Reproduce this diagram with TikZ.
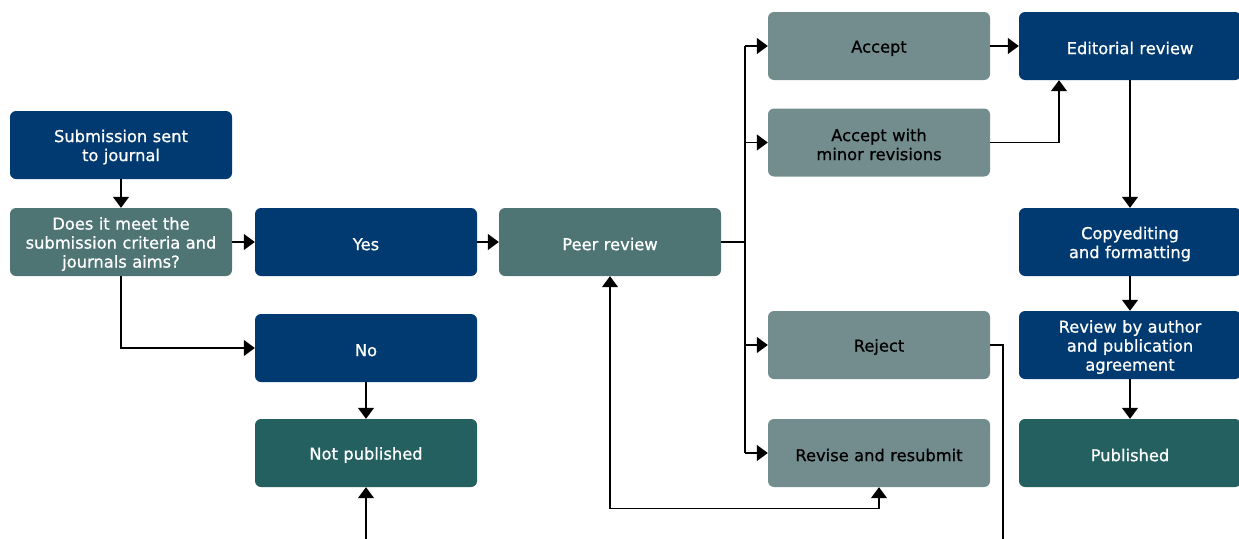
\documentclass[tikz,border=0pt]{standalone}
\usepackage{fontspec}
\setmainfont{DejaVu Sans}[BoldFont={DejaVu Sans},BoldFeatures={FakeBold=0.8}]
\usetikzlibrary{arrows.meta}
\definecolor{dblue}{HTML}{003A70}
\definecolor{mteal}{HTML}{4E7574}
\definecolor{lteal}{HTML}{738D8E}
\definecolor{dteal}{HTML}{23605F}
\tikzset{
  box/.style={rectangle, rounded corners=6pt, minimum width=222pt, minimum height=68pt,
    inner sep=2pt, align=center, text width=214pt,
    font=\bfseries\fontsize{16.3}{19}\selectfont,
    execute at begin node={\rule{0pt}{16.5pt}}},
  bluebox/.style={box, fill=dblue, text=white},
  midbox/.style={box, fill=mteal, text=white},
  lightbox/.style={box, fill=lteal, text=black},
  darkbox/.style={box, fill=dteal, text=white},
  conn/.style={line width=1.3pt, draw=black},
  arr/.style={conn, -{Triangle[width=16pt,length=11pt]}},
  darr/.style={conn, {Triangle[width=16pt,length=11pt]}-{Triangle[width=16pt,length=11pt]}},
}
\begin{document}
\begin{tikzpicture}[x=1pt,y=-1pt]
\useasboundingbox (0,0) rectangle (1239,538);
\node[bluebox] (sub) at (121,145) {Submission sent\\to journal};
\node[midbox] (meet) at (121,242) {Does it meet the\\submission criteria and\\journals aims?};
\node[bluebox] (yes) at (366,242) {Yes};
\node[bluebox] (no) at (366,348) {No};
\node[darkbox] (notpub) at (366,453) {Not published};
\node[midbox] (peer) at (610,242) {Peer review};
\node[lightbox] (acc) at (879,46) {Accept};
\node[lightbox] (accmin) at (879,142.5) {Accept with\\minor revisions};
\node[lightbox] (rej) at (879,345) {Reject};
\node[lightbox] (rev) at (879,453) {Revise and resubmit};
\node[bluebox] (edit) at (1130,46) {Editorial review};
\node[bluebox] (copy) at (1130,242) {Copyediting\\and formatting};
\node[bluebox] (revauth) at (1130,345) {Review by author\\and publication\\agreement};
\node[darkbox] (pub) at (1130,453) {Published};

\coordinate (bt) at (745,46);
\coordinate (bb) at (745,453);
\coordinate (npin) at (366,545);
\coordinate (rejout) at (1003,545);

\draw[arr] (sub) -- (meet);
\draw[arr] (meet) -- (yes);
\draw[arr] (meet.south) |- (no.west);
\draw[arr] (no) -- (notpub);
\draw[arr] (npin) -- (notpub.south);
\draw[arr] (yes) -- (peer);
\draw[conn] (peer.east) -- (peer.east -| bt);
\draw[conn] (bt) -- (bb);
\draw[arr] (bt) -- (acc.west);
\draw[arr] (accmin.west -| bt) -- (accmin.west);
\draw[arr] (rej.west -| bt) -- (rej.west);
\draw[arr] (bb) -- (rev.west);
\draw[arr] (acc) -- (edit);
\draw[arr] (accmin.east) -| ([xshift=-71pt]edit.south);
\draw[arr] (edit) -- (copy);
\draw[arr] (copy) -- (revauth);
\draw[arr] (revauth) -- (pub);
\draw[conn] (rej.east) -| (rejout);
\draw[darr] (peer.south) -- ++(0,232) -| (rev.south);
\end{tikzpicture}
\end{document}
